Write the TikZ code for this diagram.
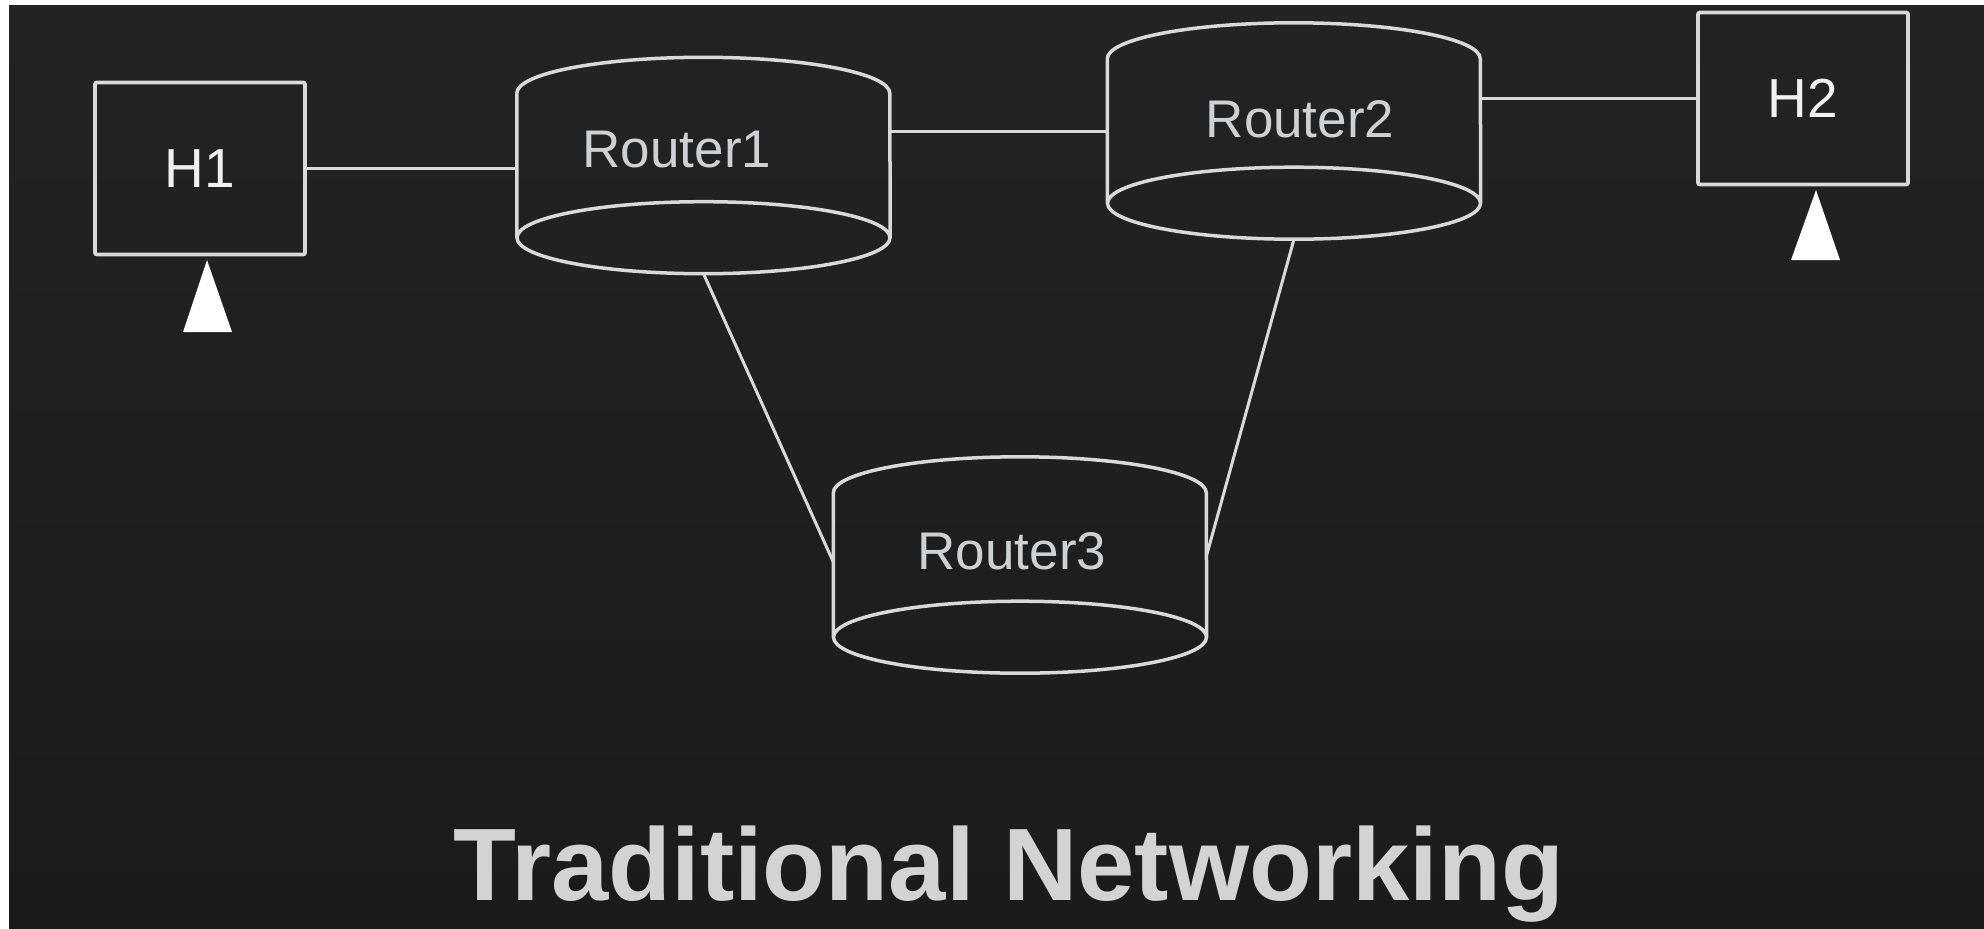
\documentclass[tikz,border=0pt]{standalone}
\usepackage{fontspec}
\setmainfont{Liberation Sans}
\usetikzlibrary{calc}
\definecolor{bgtop}{HTML}{232323}
\definecolor{bgbot}{HTML}{1B1B1B}
\definecolor{linec}{HTML}{D9D9D9}
\definecolor{hostc}{HTML}{F0F0F0}
\definecolor{routc}{HTML}{CDD1D4}
\definecolor{titlec}{HTML}{D3D3D3}
\tikzset{
  hostbox/.style={draw=linec, line width=3.8pt, rounded corners=2pt, minimum width=210pt, minimum height=172pt, inner sep=0pt, text=hostc, font=\fontsize{55pt}{60pt}\selectfont},
  routerbody/.style={draw=none, minimum width=373pt, minimum height=144pt, inner sep=0pt},
  routerlabel/.style={text=routc, inner sep=0pt, font=\fontsize{53pt}{58pt}\selectfont},
  cyl/.style={draw=linec, line width=3.5pt},
  link/.style={draw=linec, line width=3pt},
  marker/.style={fill=white, draw=none},
  titlestyle/.style={text=titlec, inner sep=0pt, font=\fontsize{103pt}{110pt}\selectfont\bfseries}
}
\begin{document}
\begin{tikzpicture}[x=1pt,y=-1pt]
\useasboundingbox (0,0) rectangle (1984,929);
\fill[white] (0,0) rectangle (1984,929);
\shade[top color=bgtop, bottom color=bgbot] (9,5) rectangle (1984,929);

% hosts
\node[hostbox] (H1) at (200,168.5) {H1};
\node[hostbox] (H2) at (1803,98.5) {H2};

% routers
\node[routerbody] (R1) at (703.5,165.5) {};
\node[routerbody] (R2) at (1294,131) {};
\node[routerbody] (R3) at (1020,565) {};
\foreach \r in {R1,R2,R3}{
  \draw[cyl] (\r.north west) arc[start angle=180, end angle=0, x radius=186.5pt, y radius=36pt] -- (\r.south east)
             (\r.south west) -- (\r.north west)
             (\r.south) ellipse[x radius=186.5pt, y radius=36pt];
}
\node[routerlabel] (L1) at (677,150) {Router1};
\node[routerlabel] (L2) at (1300,119) {Router2};
\node[routerlabel] (L3) at (1012,551) {Router3};

% connection points
\coordinate (R1b) at ([yshift=-36pt]R1.south);
\coordinate (R2b) at ([yshift=-36pt]R2.south);
\coordinate (R3l) at ([yshift=3pt]R3.west);
\coordinate (R3r) at ([yshift=10pt]R3.east);

% links
\draw[link] (H1.east) -- (H1.east -| R1.west);
\draw[link] (R1.east |- R2.west) -- (R2.west);
\draw[link] (R2.east |- H2.west) -- (H2.west);
\draw[link] (R1b) -- (R3l);
\draw[link] (R2b) -- (R3r);

% markers
\fill[marker] (207,260) -- (232,332) -- (183,332) -- cycle;
\fill[marker] (1816,190) -- (1840,260) -- (1791,260) -- cycle;

% title
\node[titlestyle, anchor=base] (T) at (1009,900) {Traditional Networking};
\end{tikzpicture}
\end{document}
